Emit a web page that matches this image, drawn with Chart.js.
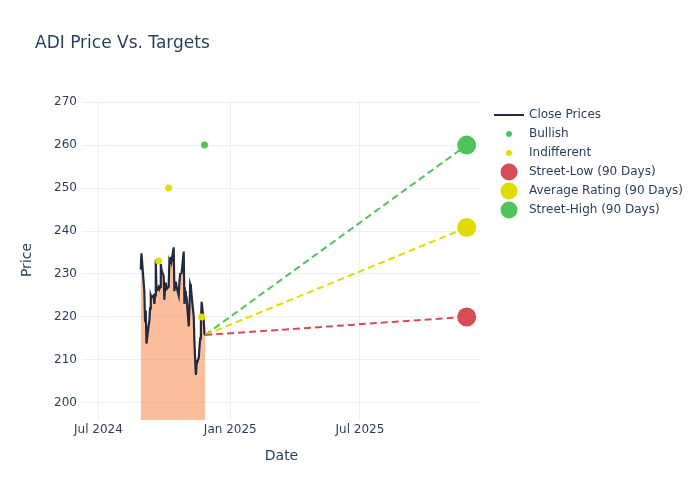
<!DOCTYPE html>
<html>
<head>
<meta charset="utf-8">
<title>ADI Price Vs. Targets</title>
<script src="https://cdn.jsdelivr.net/npm/chart.js@4.4.1/dist/chart.umd.min.js"></script>
<style>
  html, body { margin: 0; padding: 0; background: #fff; }
  #wrap { width: 700px; height: 500px; }
</style>
</head>
<body>
<div id="wrap"><canvas id="chart" width="700" height="500"></canvas></div>
<script>
// Close prices (trading days)
const closeDates = [
    '2024-08-29', '2024-08-30', '2024-09-03', '2024-09-04', '2024-09-05', '2024-09-06',
    '2024-09-09', '2024-09-10', '2024-09-11', '2024-09-12', '2024-09-13',
    '2024-09-16', '2024-09-17', '2024-09-18', '2024-09-19', '2024-09-20',
    '2024-09-23', '2024-09-24', '2024-09-25', '2024-09-26', '2024-09-27',
    '2024-09-30', '2024-10-01', '2024-10-02', '2024-10-03', '2024-10-04',
    '2024-10-07', '2024-10-08', '2024-10-09', '2024-10-10', '2024-10-11',
    '2024-10-14', '2024-10-15', '2024-10-16', '2024-10-17', '2024-10-18',
    '2024-10-21', '2024-10-22', '2024-10-23', '2024-10-24', '2024-10-25',
    '2024-10-28', '2024-10-29', '2024-10-30', '2024-10-31', '2024-11-01',
    '2024-11-04', '2024-11-05', '2024-11-06', '2024-11-07', '2024-11-08',
    '2024-11-11', '2024-11-12', '2024-11-13', '2024-11-14', '2024-11-15',
    '2024-11-18', '2024-11-19', '2024-11-20', '2024-11-21', '2024-11-22',
    '2024-11-25', '2024-11-26', '2024-11-27'
];
const closePrices = [
    231.0, 234.8, 226.0, 219.0, 221.5, 213.8,
    218.0, 219.0, 222.0, 225.0, 224.5,
    225.0, 223.0, 225.0, 233.3, 226.0,
    227.0, 226.5, 227.0, 232.3, 231.0,
    229.5, 224.0, 227.5, 228.0, 226.5,
    227.0, 233.0, 232.5, 234.0, 233.0,
    236.2, 226.0, 228.0, 228.2, 227.0,
    225.0, 228.0, 230.0, 230.0, 230.2,
    235.2, 223.0, 226.0, 225.0, 224.5,
    217.8, 222.0, 227.6, 227.0, 225.0,
    220.0, 214.0, 210.0, 206.5, 209.0,
    210.5, 213.0, 215.0, 218.5, 223.5,
    219.0, 216.0, 215.8
];

// Analyst ratings
const bullishDates = ['2024-11-26'];
const bullishTargets = [260];
const indifferentDates = ['2024-09-23', '2024-10-07', '2024-11-22'];
const indifferentTargets = [233, 250, 220];

// 90-day street targets, one year after the last close
const targetDate = '2025-11-27';
const streetLow = 220;
const averageRating = 240.8;
const streetHigh = 260;

// Axis ticks
const xTickDates = ['2024-07-01', '2025-01-01', '2025-07-01'];
const xTickLabels = ['Jul 2024', 'Jan 2025', 'Jul 2025'];
const yTicks = [200, 210, 220, 230, 240, 250, 260, 270];

const t = d => Date.parse(d + 'T00:00:00Z');
const lastDate = closeDates[closeDates.length - 1];
const lastClose = closePrices[closePrices.length - 1];

const GREEN = '#50c35a';
const YELLOW = '#e0dc00';
const RED = '#d64d56';
const FONT = '"DejaVu Sans", "Open Sans", sans-serif';
const TEXT = '#2a3f5f';

function targetLine(value, color) {
    return {
        type: 'line',
        data: [{ x: t(lastDate), y: lastClose }, { x: t(targetDate), y: value }],
        borderColor: color,
        borderWidth: 2,
        borderDash: [7, 4],
        pointRadius: 0,
        fill: false,
        legend: false,
        order: 3
    };
}

function targetPoint(label, value, color) {
    return {
        type: 'scatter',
        label: label,
        data: [{ x: t(targetDate), y: value }],
        backgroundColor: color,
        borderWidth: 0,
        pointRadius: 9.5,
        legendRadius: 8.5,
        order: 1
    };
}

const datasets = [
    {
        type: 'line',
        label: 'Close Prices',
        data: closeDates.map((d, i) => ({ x: t(d), y: closePrices[i] })),
        borderColor: '#222a3f',
        borderWidth: 2.2,
        pointRadius: 0,
        tension: 0,
        fill: 'start',
        backgroundColor: 'rgba(245,125,55,0.5)',
        legendLine: true,
        order: 4
    },
    {
        type: 'scatter',
        label: 'Bullish',
        data: bullishDates.map((d, i) => ({ x: t(d), y: bullishTargets[i] })),
        backgroundColor: GREEN,
        borderWidth: 0,
        pointRadius: 3.5,
        legendRadius: 3,
        order: 2
    },
    {
        type: 'scatter',
        label: 'Indifferent',
        data: indifferentDates.map((d, i) => ({ x: t(d), y: indifferentTargets[i] })),
        backgroundColor: YELLOW,
        borderWidth: 0,
        pointRadius: 3.5,
        legendRadius: 3,
        order: 2
    },
    targetLine(streetLow, RED),
    targetLine(averageRating, YELLOW),
    targetLine(streetHigh, GREEN),
    targetPoint('Street-Low (90 Days)', streetLow, RED),
    targetPoint('Average Rating (90 Days)', averageRating, YELLOW),
    targetPoint('Street-High (90 Days)', streetHigh, GREEN)
];

// Title and legend drawn plotly-style
const decor = {
    id: 'decor',
    afterDraw(chart) {
        const ctx = chart.ctx;
        ctx.save();
        ctx.fillStyle = TEXT;
        ctx.font = '17px ' + FONT;
        ctx.textBaseline = 'middle';
        ctx.textAlign = 'left';
        ctx.fillText('ADI Price Vs. Targets', 35, 44);

        ctx.font = '12px ' + FONT;
        let y = 115;
        chart.data.datasets.forEach(ds => {
            if (ds.legend === false) return;
            if (ds.legendLine) {
                ctx.strokeStyle = ds.borderColor;
                ctx.lineWidth = 2;
                ctx.beginPath();
                ctx.moveTo(494, y);
                ctx.lineTo(524, y);
                ctx.stroke();
            } else {
                ctx.fillStyle = ds.backgroundColor;
                ctx.beginPath();
                ctx.arc(509, y, ds.legendRadius, 0, Math.PI * 2);
                ctx.fill();
            }
            ctx.fillStyle = TEXT;
            ctx.fillText(ds.label, 529, y);
            y += 19;
        });
        ctx.restore();
    }
};

new Chart(document.getElementById('chart'), {
    data: { datasets: datasets },
    options: {
        responsive: false,
        animation: false,
        layout: { padding: { top: 100, right: 219, left: 19, bottom: 0 } },
        plugins: {
            legend: { display: false },
            tooltip: { enabled: false }
        },
        scales: {
            x: {
                type: 'linear',
                min: t('2024-06-08'),
                max: t('2025-12-17'),
                afterBuildTicks: scale => {
                    scale.ticks = xTickDates.map(d => ({ value: t(d) }));
                },
                afterFit: scale => { scale.height = 80; },
                grid: { color: '#ebf0f8', drawTicks: false, lineWidth: 1 },
                border: { display: false },
                ticks: {
                    padding: 3,
                    color: TEXT,
                    font: { family: FONT, size: 12 },
                    maxRotation: 0,
                    callback: value => {
                        const i = xTickDates.findIndex(d => t(d) === value);
                        return i >= 0 ? xTickLabels[i] : '';
                    }
                },
                title: {
                    display: true,
                    text: 'Date',
                    color: TEXT,
                    font: { family: FONT, size: 14 },
                    padding: { top: 0, bottom: 35 }
                }
            },
            y: {
                type: 'linear',
                min: 196,
                max: 270.5,
                afterBuildTicks: scale => {
                    scale.ticks = yTicks.map(v => ({ value: v }));
                },
                afterFit: scale => { scale.width = 63; },
                grid: { color: '#ebf0f8', drawTicks: false, lineWidth: 1 },
                border: { display: false },
                ticks: {
                    padding: 5,
                    color: TEXT,
                    font: { family: FONT, size: 12 }
                },
                title: {
                    display: true,
                    text: 'Price',
                    color: TEXT,
                    font: { family: FONT, size: 14 },
                    padding: { top: 0, bottom: 0 }
                }
            }
        }
    },
    plugins: [decor]
});
</script>
</body>
</html>
